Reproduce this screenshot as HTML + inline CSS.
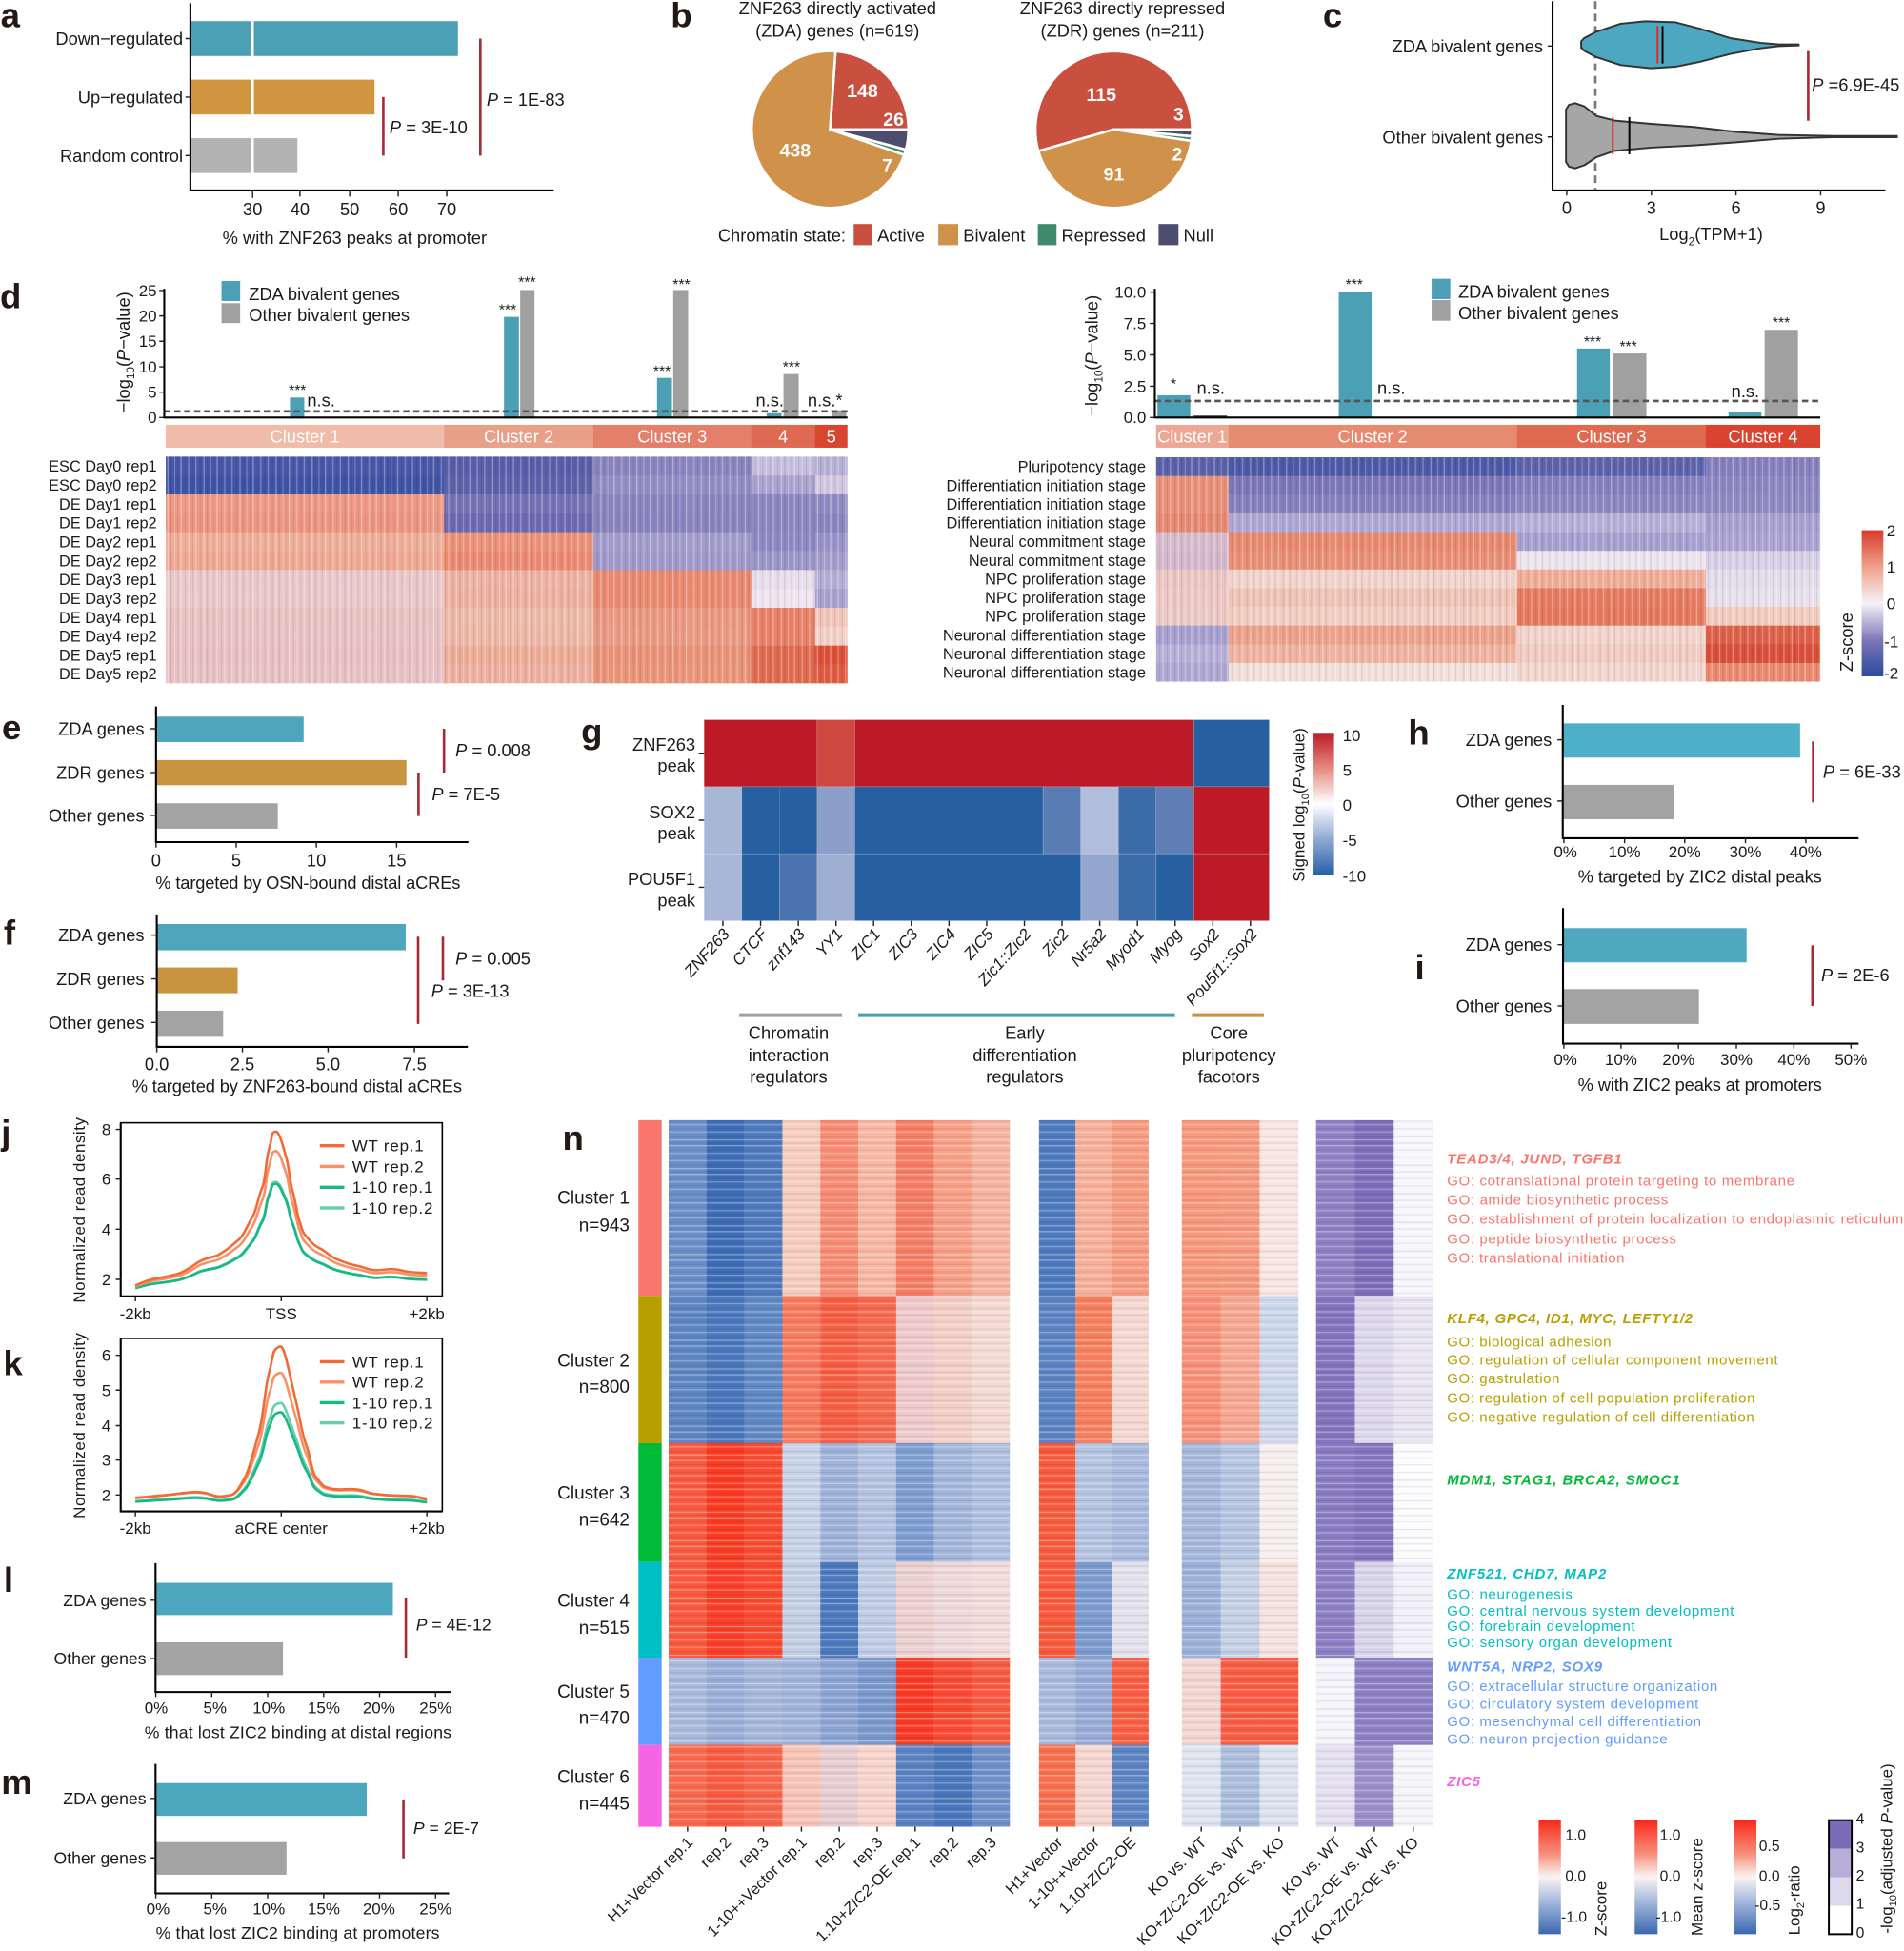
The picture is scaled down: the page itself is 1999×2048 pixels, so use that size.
<!DOCTYPE html>
<html><head><meta charset="utf-8"><style>
html,body{margin:0;padding:0;background:#fff;}
svg{display:block;}
text{font-family:"Liberation Sans",Arial,sans-serif;fill:#1a1a1a;}
.L{font-weight:bold;font-size:28px;fill:#231815;}
.ax{stroke:#000;stroke-width:1.6;fill:none;}
.tk{stroke:#222;stroke-width:1.1;fill:none;}
.sg{stroke:#A52A35;stroke-width:2;fill:none;}
.w{fill:#fff;font-weight:bold;}
</style></head><body>
<svg xmlns="http://www.w3.org/2000/svg" width="1999" height="2048" viewBox="0 0 1530 1567.5" preserveAspectRatio="none">
<defs>
<pattern id="vs" width="29" height="10" patternUnits="userSpaceOnUse">
<rect x="0" width="1" height="10" fill="#fff" fill-opacity=".35"/><rect x="3.5" width=".8" height="10" fill="#000" fill-opacity=".08"/><rect x="6" width="1.2" height="10" fill="#fff" fill-opacity=".25"/><rect x="9.5" width=".7" height="10" fill="#000" fill-opacity=".1"/><rect x="12" width="1" height="10" fill="#fff" fill-opacity=".3"/><rect x="15.5" width="1.4" height="10" fill="#000" fill-opacity=".07"/><rect x="18.5" width=".8" height="10" fill="#fff" fill-opacity=".4"/><rect x="21" width="1" height="10" fill="#000" fill-opacity=".09"/><rect x="24" width=".7" height="10" fill="#fff" fill-opacity=".3"/><rect x="26.5" width="1.1" height="10" fill="#000" fill-opacity=".06"/>
</pattern>
<pattern id="hs" width="10" height="23" patternUnits="userSpaceOnUse">
<rect y="0" height="1" width="10" fill="#fff" fill-opacity=".35"/><rect y="3.5" height=".8" width="10" fill="#000" fill-opacity=".08"/><rect y="6" height="1.2" width="10" fill="#fff" fill-opacity=".25"/><rect y="9.5" height=".7" width="10" fill="#000" fill-opacity=".1"/><rect y="12" height="1" width="10" fill="#fff" fill-opacity=".3"/><rect y="15.5" height="1.4" width="10" fill="#000" fill-opacity=".07"/><rect y="18.5" height=".8" width="10" fill="#fff" fill-opacity=".4"/><rect y="21" height="1" width="10" fill="#000" fill-opacity=".08"/>
</pattern>
<linearGradient id="gz" x1="0" y1="0" x2="0" y2="1"><stop offset="0" stop-color="#D73B29"/><stop offset=".25" stop-color="#EFA08A"/><stop offset=".5" stop-color="#F7F2F7"/><stop offset=".75" stop-color="#7D77B8"/><stop offset="1" stop-color="#2B4A9B"/></linearGradient>
<linearGradient id="gg" x1="0" y1="0" x2="0" y2="1"><stop offset="0" stop-color="#BD1A28"/><stop offset=".25" stop-color="#E58A80"/><stop offset=".5" stop-color="#FFFFFF"/><stop offset=".75" stop-color="#8FA8D2"/><stop offset="1" stop-color="#2660A8"/></linearGradient>
<linearGradient id="gn" x1="0" y1="0" x2="0" y2="1"><stop offset="0" stop-color="#F9291C"/><stop offset=".3" stop-color="#F7907C"/><stop offset=".5" stop-color="#FBF4F4"/><stop offset=".7" stop-color="#A9BCDD"/><stop offset="1" stop-color="#3A68B1"/></linearGradient>
<path id="jc" fill="none" vector-effect="non-scaling-stroke" d="M108.8 1032.8C115 1030 120 1028 125.8 1027.1S137 1025 142.2 1023.6S150 1020 153.1 1018.3S158 1014.5 161.3 1013S168 1010.5 172.2 1009.5S177 1007 180.4 1005.1S187 1000 191.4 996.4S198 986 202.3 978.8S207 963 210.5 954.7S213 935 216 924S218 910.5 220.1 909.6S222.5 909 224.2 911.8S226.5 918 229.6 928.4S232 946 235.1 956.9S238 973 240.6 981S243 990 246 993.3S251 1000 257 1003S264 1009 270.6 1011.7S280 1015.5 287 1017S295 1020 300.7 1020.5S308 1019.6 314.4 1019.6S322 1021 328 1021.8S337 1022.5 343.1 1022.7"/>
<path id="kc" fill="none" vector-effect="non-scaling-stroke" d="M108.8 1203.7C118 1203 124 1202 131.2 1201.5S146 1199.5 153.1 1198.9S160 1199 164 1199.4S171 1202 175 1202.4S182 1202 185.9 1201.1S193 1194 196.8 1187.1S204 1165 207.8 1152S213 1115 216 1103.8S219 1086 221.4 1084.1S224 1081.9 225.5 1081.9S228 1085 229.6 1090.6S234 1110 237.8 1125.7S242 1150 246 1160.8S250 1182 254.2 1187.1S259 1194 262.4 1195S268 1196.7 273.4 1196.7S281 1196 287 1196.7S295 1199.5 300.7 1200.2S309 1201.3 314.4 1201.5S322 1202 328 1202S338 1204 343.1 1204.6"/>
</defs>

<!-- ============ Panel a ============ -->
<text class="L" x="0.5" y="21.7">a</text>
<g font-size="14">
<rect x="153" y="17" width="215" height="28" fill="#4BA0B5"/>
<rect x="153" y="64" width="148" height="28" fill="#D09640"/>
<rect x="153" y="111" width="86" height="28" fill="#B3B3B3"/>
<rect x="201.5" y="14" width="2.5" height="130" fill="#fff"/>
<path class="ax" d="M153 2.6V153H445"/>
<path class="tk" d="M149 31H153M149 78H153M149 125H153M203 153V159M241 153V158M281 153V158M320 153V158M359 153V158"/>
<g text-anchor="end"><text x="147" y="36">Down−regulated</text><text x="147" y="83">Up−regulated</text><text x="147" y="130">Random control</text></g>
<g text-anchor="middle"><text x="203" y="173">30</text><text x="241" y="173">40</text><text x="281" y="173">50</text><text x="320" y="173">60</text><text x="359" y="173">70</text>
<text x="285" y="196">% with ZNF263 peaks at promoter</text></g>
<path class="sg" d="M308 78V125M386 31V125"/>
<text x="313" y="107"><tspan font-style="italic">P</tspan> = 3E-10</text>
<text x="391" y="85"><tspan font-style="italic">P</tspan> = 1E-83</text>
</g>

<!-- ============ Panel b ============ -->
<text class="L" x="539" y="21.7">b</text>
<g font-size="14" text-anchor="middle">
<text x="673" y="11.5">ZNF263 directly activated</text><text x="673" y="29.5">(ZDA) genes (n=619)</text>
<text x="902" y="11.5">ZNF263 directly repressed</text><text x="902" y="29.5">(ZDR) genes (n=211)</text>
</g>
<g stroke="#fff" stroke-width="2">
<path d="M667 104L671.4 41.2A63 63 0 0 1 730 104Z" fill="#C9503F"/>
<path d="M667 104L730 104A63 63 0 0 1 727.9 120.3Z" fill="#4D4D70"/>
<path d="M667 104L727.9 120.3A63 63 0 0 1 726.6 124.5Z" fill="#3E8A6E"/>
<path d="M667 104L726.6 124.5A63 63 0 1 1 671.4 41.2Z" fill="#D0914A"/>
<path d="M895 104L834.4 121.4A63 63 0 1 1 958 104Z" fill="#C9503F"/>
<path d="M895 104L958 104A63 63 0 0 1 957.8 109.5Z" fill="#4D4D70"/>
<path d="M895 104L957.8 109.5A63 63 0 0 1 957.3 113.2Z" fill="#3E8A6E"/>
<path d="M895 104L957.3 113.2A63 63 0 0 1 834.4 121.4Z" fill="#D0914A"/>
</g>
<g font-size="15" text-anchor="middle" class="w">
<text class="w" x="693" y="78">148</text><text class="w" x="718" y="101">26</text><text class="w" x="713" y="138">7</text><text class="w" x="639" y="126">438</text>
<text class="w" x="885" y="81">115</text><text class="w" x="947" y="97">3</text><text class="w" x="946" y="129">2</text><text class="w" x="895" y="145">91</text>
</g>
<g font-size="14">
<text x="577" y="194">Chromatin state:</text>
<rect x="686" y="180" width="15" height="17" fill="#C9503F"/><text x="705" y="194">Active</text>
<rect x="754" y="180" width="16" height="17" fill="#D0914A"/><text x="774" y="194">Bivalent</text>
<rect x="834" y="180" width="15" height="17" fill="#3E8A6E"/><text x="853" y="194">Repressed</text>
<rect x="931" y="180" width="16" height="17" fill="#4D4D70"/><text x="951" y="194">Null</text>
</g>

<!-- ============ Panel c ============ -->
<text class="L" x="1063" y="21.7">c</text>
<path d="M1282 1V153" stroke="#777" stroke-width="2" stroke-dasharray="6 4"/>
<path d="M1270.6 33.2L1273 30.6 1282.8 25.5 1302.3 19.1 1321.9 17.1 1346.3 17.9 1365.8 23 1390.2 30.6 1414.6 34.4 1429.3 35.7 1445.4 35.7 1445.4 36.5 1429.3 37 1414.6 38.8 1390.2 43.4 1365.8 49.7 1346.3 53.6 1326.7 54.8 1302.3 52.3 1282.8 45.9 1273 40.8 1270.6 38.3Z" fill="#4BA8C0" stroke="#333" stroke-width="1.5" stroke-linejoin="round"/>
<path d="M1258.4 88L1260.8 84.2 1265.7 82.9 1273.2 85.5 1282.8 93.1 1297.5 96.9 1326.7 99.5 1361 102 1395 105.9 1429.3 108.4 1473.2 109.2 1524.4 109.2 1524.4 110.2 1473.2 110.2 1429.3 111.5 1395 114.3 1361 116.8 1326.7 118.6 1297.5 121.2 1282.8 126.3 1273.2 132.7 1265.7 135.2 1260.8 133.9 1258.4 130.1Z" fill="#A6A6A6" stroke="#333" stroke-width="1.5" stroke-linejoin="round"/>
<path d="M1332 21V51M1296 94.4V123.7" stroke="#E8261E" stroke-width="1.5"/>
<path d="M1336 21V51M1309.3 94V124" stroke="#000" stroke-width="1.5"/>
<path class="ax" d="M1247.6 1V153H1515"/>
<path class="tk" d="M1243.6 37H1247.6M1243.6 110H1247.6M1259 153V157M1327 153V157M1395 153V157M1463 153V157"/>
<g font-size="14">
<g text-anchor="end"><text x="1240" y="42">ZDA bivalent genes</text><text x="1240" y="115">Other bivalent genes</text></g>
<g text-anchor="middle"><text x="1259" y="172">0</text><text x="1327" y="172">3</text><text x="1395" y="172">6</text><text x="1463" y="172">9</text>
<text x="1375" y="193">Log<tspan font-size="9" dy="4">2</tspan><tspan dy="-4">(TPM+1)</tspan></text></g>
<path class="sg" d="M1453 41V97"/>
<text x="1456" y="73"><tspan font-style="italic">P</tspan> =6.9E-45</text>
</g>

<!-- ============ Panel d (left) ============ -->
<text class="L" x="0" y="247.5">d</text>
<g font-size="13">
<path class="tk" d="M128 233.4H132M128 253.8H132M128 274.2H132M128 294.7H132M128 315.1H132M128 335.5H132"/>
<g text-anchor="end"><text x="126" y="238">25</text><text x="126" y="258.3">20</text><text x="126" y="278.7">15</text><text x="126" y="299.2">10</text><text x="126" y="319.6">5</text><text x="126" y="340">0</text></g>
</g>
<text font-size="14" text-anchor="middle" transform="translate(104,283) rotate(-90)">−log<tspan font-size="9" dy="4">10</tspan><tspan dy="-4">(</tspan><tspan font-style="italic">P</tspan>−value)</text>
<rect x="178" y="225.8" width="15" height="16" fill="#4BA0B5"/><rect x="178" y="243.6" width="15" height="16" fill="#A0A0A0"/>
<text font-size="14" x="200" y="241">ZDA bivalent genes</text><text font-size="14" x="200" y="258">Other bivalent genes</text>
<g fill="#4BA0B5"><rect x="233" y="319.4" width="11.5" height="16.1"/><rect x="405" y="254.6" width="12" height="80.9"/><rect x="528" y="303.6" width="12" height="31.9"/><rect x="616" y="332" width="12" height="3.5"/></g>
<g fill="#A0A0A0"><rect x="418" y="233" width="11.5" height="102.5"/><rect x="541" y="233" width="12" height="102.5"/><rect x="629.6" y="300.5" width="12.2" height="35"/><rect x="668.6" y="329.6" width="11.5" height="5.9"/></g>
<path d="M132 330.5H681" stroke="#555" stroke-width="2" stroke-dasharray="5 3"/>
<path class="ax" d="M132 232V335.5H681" stroke-width="2"/>
<g font-size="12" text-anchor="middle"><text x="239" y="317.8">***</text><text x="408" y="252.8">***</text><text x="423.6" y="230.8">***</text><text x="532" y="302.2">***</text><text x="547.6" y="232.8">***</text><text x="636" y="298.8">***</text></g>
<g font-size="14" text-anchor="middle"><text x="258" y="326.3">n.s.</text><text x="618.6" y="326.3">n.s.</text><text x="663" y="326.3">n.s.*</text></g>
<rect x="133.2" y="341.3" width="223.8" height="18.4" fill="#F0BBA8"/><rect x="356.8" y="341.3" width="120.2" height="18.4" fill="#E9A088"/><rect x="476.8" y="341.3" width="127.1" height="18.4" fill="#E4806A"/><rect x="603.7" y="341.3" width="51.5" height="18.4" fill="#DF6A52"/><rect x="655" y="341.3" width="26" height="18.4" fill="#D94530"/>
<g font-size="14" text-anchor="middle"><text class="w" style="font-weight:normal" x="245" y="355.5">Cluster 1</text><text class="w" style="font-weight:normal" x="416.8" y="355.5">Cluster 2</text><text class="w" style="font-weight:normal" x="540.2" y="355.5">Cluster 3</text><text class="w" style="font-weight:normal" x="629.3" y="355.5">4</text><text class="w" style="font-weight:normal" x="668" y="355.5">5</text></g>
<!-- heatmap left -->
<g>
<g transform="translate(0,366.9)"><rect x="133.2" width="223.8" height="15.4" fill="#4758A8"/><rect x="356.8" width="120.2" height="15.4" fill="#5A5EAA"/><rect x="476.8" width="127.1" height="15.4" fill="#8A84C0"/><rect x="603.7" width="51.5" height="15.4" fill="#C6BEDD"/><rect x="655" width="26" height="15.4" fill="#B8B0D6"/></g>
<g transform="translate(0,382.08)"><rect x="133.2" width="223.8" height="15.4" fill="#4054A5"/><rect x="356.8" width="120.2" height="15.4" fill="#5F62AB"/><rect x="476.8" width="127.1" height="15.4" fill="#948EC5"/><rect x="603.7" width="51.5" height="15.4" fill="#ABA3D0"/><rect x="655" width="26" height="15.4" fill="#D2C6E0"/></g>
<g transform="translate(0,397.25)"><rect x="133.2" width="223.8" height="15.4" fill="#EE9A85"/><rect x="356.8" width="120.2" height="15.4" fill="#7772B5"/><rect x="476.8" width="127.1" height="15.4" fill="#8B85C0"/><rect x="603.7" width="51.5" height="15.4" fill="#8D87C1"/><rect x="655" width="26" height="15.4" fill="#918BC3"/></g>
<g transform="translate(0,412.43)"><rect x="133.2" width="223.8" height="15.4" fill="#EC9682"/><rect x="356.8" width="120.2" height="15.4" fill="#6E6AB1"/><rect x="476.8" width="127.1" height="15.4" fill="#8984BF"/><rect x="603.7" width="51.5" height="15.4" fill="#8D87C1"/><rect x="655" width="26" height="15.4" fill="#8C86C0"/></g>
<g transform="translate(0,427.6)"><rect x="133.2" width="223.8" height="15.4" fill="#F0AE9B"/><rect x="356.8" width="120.2" height="15.4" fill="#EE9379"/><rect x="476.8" width="127.1" height="15.4" fill="#A49DCD"/><rect x="603.7" width="51.5" height="15.4" fill="#8F89C2"/><rect x="655" width="26" height="15.4" fill="#9A94C8"/></g>
<g transform="translate(0,442.78)"><rect x="133.2" width="223.8" height="15.4" fill="#F0A994"/><rect x="356.8" width="120.2" height="15.4" fill="#EC8B71"/><rect x="476.8" width="127.1" height="15.4" fill="#A09ACB"/><rect x="603.7" width="51.5" height="15.4" fill="#9C96C9"/><rect x="655" width="26" height="15.4" fill="#A49DCD"/></g>
<g transform="translate(0,457.95)"><rect x="133.2" width="223.8" height="15.4" fill="#E9C8CA"/><rect x="356.8" width="120.2" height="15.4" fill="#EEB3A4"/><rect x="476.8" width="127.1" height="15.4" fill="#EA8B71"/><rect x="603.7" width="51.5" height="15.4" fill="#E8DDEB"/><rect x="655" width="26" height="15.4" fill="#B6AED6"/></g>
<g transform="translate(0,473.13)"><rect x="133.2" width="223.8" height="15.4" fill="#EAC9C8"/><rect x="356.8" width="120.2" height="15.4" fill="#EEB1A0"/><rect x="476.8" width="127.1" height="15.4" fill="#EA8B71"/><rect x="603.7" width="51.5" height="15.4" fill="#EEE5EF"/><rect x="655" width="26" height="15.4" fill="#A9A1D0"/></g>
<g transform="translate(0,488.3)"><rect x="133.2" width="223.8" height="15.4" fill="#E9C2C2"/><rect x="356.8" width="120.2" height="15.4" fill="#EEBBA9"/><rect x="476.8" width="127.1" height="15.4" fill="#EB9981"/><rect x="603.7" width="51.5" height="15.4" fill="#E88169"/><rect x="655" width="26" height="15.4" fill="#F1C6B8"/></g>
<g transform="translate(0,503.48)"><rect x="133.2" width="223.8" height="15.4" fill="#E9C2C4"/><rect x="356.8" width="120.2" height="15.4" fill="#EEB9A7"/><rect x="476.8" width="127.1" height="15.4" fill="#EB9B83"/><rect x="603.7" width="51.5" height="15.4" fill="#E88169"/><rect x="655" width="26" height="15.4" fill="#F2D1C6"/></g>
<g transform="translate(0,518.65)"><rect x="133.2" width="223.8" height="15.4" fill="#E9C0C2"/><rect x="356.8" width="120.2" height="15.4" fill="#EEAD99"/><rect x="476.8" width="127.1" height="15.4" fill="#EA9379"/><rect x="603.7" width="51.5" height="15.4" fill="#E06B51"/><rect x="655" width="26" height="15.4" fill="#DD5139"/></g>
<g transform="translate(0,533.83)"><rect x="133.2" width="223.8" height="15.2" fill="#E9C2C6"/><rect x="356.8" width="120.2" height="15.2" fill="#EEB1A1"/><rect x="476.8" width="127.1" height="15.2" fill="#EA9579"/><rect x="603.7" width="51.5" height="15.2" fill="#E06B51"/><rect x="655" width="26" height="15.2" fill="#E05B43"/></g>
<rect x="133.2" y="366.9" width="547.8" height="182.1" fill="url(#vs)"/>
</g>
<g font-size="12.5" text-anchor="end">
<text x="126" y="379">ESC Day0 rep1</text><text x="126" y="394.2">ESC Day0 rep2</text><text x="126" y="409.3">DE Day1 rep1</text><text x="126" y="424.5">DE Day1 rep2</text><text x="126" y="439.7">DE Day2 rep1</text><text x="126" y="454.9">DE Day2 rep2</text><text x="126" y="470">DE Day3 rep1</text><text x="126" y="485.2">DE Day3 rep2</text><text x="126" y="500.4">DE Day4 rep1</text><text x="126" y="515.6">DE Day4 rep2</text><text x="126" y="530.7">DE Day5 rep1</text><text x="126" y="545.9">DE Day5 rep2</text>
</g>

<!-- ============ Panel d (right) ============ -->
<g font-size="13">
<path class="tk" d="M924 234.7H928M924 259.9H928M924 285.1H928M924 310.3H928M924 335.5H928"/>
<g text-anchor="end"><text x="921" y="239.2">10.0</text><text x="921" y="264.4">7.5</text><text x="921" y="289.6">5.0</text><text x="921" y="314.8">2.5</text><text x="921" y="340">0.0</text></g>
</g>
<text font-size="14" text-anchor="middle" transform="translate(882,285.7) rotate(-90)">−log<tspan font-size="9" dy="4">10</tspan><tspan dy="-4">(</tspan><tspan font-style="italic">P</tspan>−value)</text>
<g fill="#4BA0B5"><rect x="930.1" y="317.6" width="26.4" height="17.9"/><rect x="1075.8" y="234.7" width="26.4" height="100.8"/><rect x="1267.3" y="280" width="26.3" height="55.5"/><rect x="1389" y="330.9" width="26.4" height="4.6"/></g>
<g fill="#A0A0A0"><rect x="1296" y="284" width="27" height="51.5"/><rect x="1418" y="265" width="26.8" height="70.5"/></g>
<rect x="959" y="333.8" width="27" height="1.7" fill="#555"/>
<path d="M928 322.2H1462.7" stroke="#555" stroke-width="2" stroke-dasharray="5 3"/>
<path class="ax" d="M928 232V335.5H1462.7" stroke-width="2"/>
<rect x="1150.4" y="224" width="15" height="16.3" fill="#4BA0B5"/><rect x="1150.4" y="241.1" width="15" height="16.6" fill="#A0A0A0"/>
<text font-size="14" x="1171.8" y="239.2">ZDA bivalent genes</text><text font-size="14" x="1171.8" y="256.3">Other bivalent genes</text>
<g font-size="12" text-anchor="middle"><text x="943" y="312.8">*</text><text x="1088.2" y="232.6">***</text><text x="1279.7" y="278.5">***</text><text x="1308.5" y="282.3">***</text><text x="1431.3" y="263.2">***</text></g>
<g font-size="14" text-anchor="middle"><text x="973" y="316.5">n.s.</text><text x="1118" y="316.5">n.s.</text><text x="1402.5" y="319">n.s.</text></g>
<rect x="929" y="341.3" width="58.5" height="18.4" fill="#EDA895"/><rect x="987.3" y="341.3" width="231.9" height="18.4" fill="#E68A70"/><rect x="1219" y="341.3" width="151.9" height="18.4" fill="#E06A50"/><rect x="1370.7" y="341.3" width="92" height="18.4" fill="#D9432F"/>
<g font-size="14" text-anchor="middle" fill="#fff"><text style="fill:#fff" x="958" y="355.5">Cluster 1</text><text style="fill:#fff" x="1103" y="355.5">Cluster 2</text><text style="fill:#fff" x="1295" y="355.5">Cluster 3</text><text style="fill:#fff" x="1416.7" y="355.5">Cluster 4</text></g>
<g>
<g transform="translate(0,367.4)"><rect x="929" width="58.5" height="15.3" fill="#5A62AC"/><rect x="987.3" width="231.9" height="15.3" fill="#4D5AA8"/><rect x="1219" width="151.9" height="15.3" fill="#5C63AD"/><rect x="1370.7" width="92" height="15.3" fill="#8680BE"/></g>
<g transform="translate(0,382.43)"><rect x="929" width="58.5" height="15.3" fill="#E8907A"/><rect x="987.3" width="231.9" height="15.3" fill="#7C77B8"/><rect x="1219" width="151.9" height="15.3" fill="#8680BE"/><rect x="1370.7" width="92" height="15.3" fill="#8D87C2"/></g>
<g transform="translate(0,397.45)"><rect x="929" width="58.5" height="15.3" fill="#E8907A"/><rect x="987.3" width="231.9" height="15.3" fill="#8680BE"/><rect x="1219" width="151.9" height="15.3" fill="#8D87C2"/><rect x="1370.7" width="92" height="15.3" fill="#908AC3"/></g>
<g transform="translate(0,412.48)"><rect x="929" width="58.5" height="15.3" fill="#E68A72"/><rect x="987.3" width="231.9" height="15.3" fill="#B0A8D4"/><rect x="1219" width="151.9" height="15.3" fill="#B8B0D8"/><rect x="1370.7" width="92" height="15.3" fill="#A8A0D0"/></g>
<g transform="translate(0,427.5)"><rect x="929" width="58.5" height="15.3" fill="#D8BCCC"/><rect x="987.3" width="231.9" height="15.3" fill="#E88A70"/><rect x="1219" width="151.9" height="15.3" fill="#A8A0D0"/><rect x="1370.7" width="92" height="15.3" fill="#ACA4D2"/></g>
<g transform="translate(0,442.53)"><rect x="929" width="58.5" height="15.3" fill="#D4B8CC"/><rect x="987.3" width="231.9" height="15.3" fill="#EA9078"/><rect x="1219" width="151.9" height="15.3" fill="#EDE4EE"/><rect x="1370.7" width="92" height="15.3" fill="#D8D0E6"/></g>
<g transform="translate(0,457.55)"><rect x="929" width="58.5" height="15.3" fill="#EBC6C4"/><rect x="987.3" width="231.9" height="15.3" fill="#F2D4CC"/><rect x="1219" width="151.9" height="15.3" fill="#F0AE98"/><rect x="1370.7" width="92" height="15.3" fill="#E2DCEC"/></g>
<g transform="translate(0,472.58)"><rect x="929" width="58.5" height="15.3" fill="#EDC8C4"/><rect x="987.3" width="231.9" height="15.3" fill="#F0C4B6"/><rect x="1219" width="151.9" height="15.3" fill="#E67C62"/><rect x="1370.7" width="92" height="15.3" fill="#E8E0EC"/></g>
<g transform="translate(0,487.6)"><rect x="929" width="58.5" height="15.3" fill="#EDCAC6"/><rect x="987.3" width="231.9" height="15.3" fill="#F2CEC2"/><rect x="1219" width="151.9" height="15.3" fill="#E6785E"/><rect x="1370.7" width="92" height="15.3" fill="#F2CCBE"/></g>
<g transform="translate(0,502.63)"><rect x="929" width="58.5" height="15.3" fill="#A8A0D0"/><rect x="987.3" width="231.9" height="15.3" fill="#EDA38C"/><rect x="1219" width="151.9" height="15.3" fill="#F2D4CC"/><rect x="1370.7" width="92" height="15.3" fill="#E0614A"/></g>
<g transform="translate(0,517.65)"><rect x="929" width="58.5" height="15.3" fill="#B8B0D8"/><rect x="987.3" width="231.9" height="15.3" fill="#F0B4A2"/><rect x="1219" width="151.9" height="15.3" fill="#F0CCC2"/><rect x="1370.7" width="92" height="15.3" fill="#DA503A"/></g>
<g transform="translate(0,532.68)"><rect x="929" width="58.5" height="15" fill="#B0A8D4"/><rect x="987.3" width="231.9" height="15" fill="#F2E0DC"/><rect x="1219" width="151.9" height="15" fill="#F2D6CE"/><rect x="1370.7" width="92" height="15" fill="#EA8A70"/></g>
<rect x="929" y="367.4" width="533.7" height="180.3" fill="url(#vs)"/>
</g>
<g font-size="12.5" text-anchor="end">
<text x="920.7" y="379.4">Pluripotency stage</text><text x="920.7" y="394.4">Differentiation initiation stage</text><text x="920.7" y="409.5">Differentiation initiation stage</text><text x="920.7" y="424.5">Differentiation initiation stage</text><text x="920.7" y="439.5">Neural commitment stage</text><text x="920.7" y="454.5">Neural commitment stage</text><text x="920.7" y="469.6">NPC proliferation stage</text><text x="920.7" y="484.6">NPC proliferation stage</text><text x="920.7" y="499.6">NPC proliferation stage</text><text x="920.7" y="514.6">Neuronal differentiation stage</text><text x="920.7" y="529.7">Neuronal differentiation stage</text><text x="920.7" y="544.7">Neuronal differentiation stage</text>
</g>
<rect x="1496" y="426" width="17.4" height="117.4" fill="url(#gz)"/>
<g font-size="13"><text x="1516" y="431">2</text><text x="1516" y="460">1</text><text x="1516" y="489.5">0</text><text x="1514" y="520">-1</text><text x="1514" y="545.5">-2</text></g>
<text font-size="14" text-anchor="middle" transform="translate(1488.6,516) rotate(-90)">Z-score</text>

<!-- ============ Panel e ============ -->
<text class="L" x="1.5" y="593.9">e</text>
<g font-size="14">
<rect x="125.4" y="575.8" width="118.6" height="20.4" fill="#4DA6BD"/>
<rect x="125.4" y="610.7" width="201.2" height="20.2" fill="#C9933F"/>
<rect x="125.4" y="645.4" width="97.8" height="20.4" fill="#A3A3A3"/>
<path class="ax" d="M125.4 567.6V676.6H376.4"/>
<path class="tk" d="M121 585.5H125.4M121 620.7H125.4M121 655.1H125.4M125.4 676.6V681M189.8 676.6V681M254.2 676.6V681M318.7 676.6V681"/>
<g text-anchor="end"><text x="116" y="590.5">ZDA genes</text><text x="116" y="625.7">ZDR genes</text><text x="116" y="660">Other genes</text></g>
<g text-anchor="middle"><text x="125.4" y="696">0</text><text x="189.8" y="696">5</text><text x="254.2" y="696">10</text><text x="318.7" y="696">15</text>
<text x="247.5" y="714" textLength="245">% targeted by OSN-bound distal aCREs</text></g>
<path class="sg" d="M356.8 585.5V620.7M336.3 620.7V655.6"/>
<text x="366" y="607.6"><tspan font-style="italic">P</tspan> = 0.008</text>
<text x="347" y="642.8"><tspan font-style="italic">P</tspan> = 7E-5</text>
</g>

<!-- ============ Panel f ============ -->
<text class="L" x="3" y="759">f</text>
<g font-size="14">
<rect x="126" y="742.4" width="200" height="21.1" fill="#4DA6BD"/>
<rect x="126" y="777.3" width="65" height="20.7" fill="#C9933F"/>
<rect x="126" y="812" width="53.3" height="21" fill="#A3A3A3"/>
<path class="ax" d="M126 734.7V841.1H376"/>
<path class="tk" d="M121.6 751.3H126M121.6 786.5H126M121.6 821.5H126M126 841.1V845.5M194.8 841.1V845.5M263.6 841.1V845.5M333 841.1V845.5"/>
<g text-anchor="end"><text x="116" y="756.3">ZDA genes</text><text x="116" y="791.5">ZDR genes</text><text x="116" y="826.5">Other genes</text></g>
<g text-anchor="middle"><text x="126" y="860">0.0</text><text x="194.8" y="860">2.5</text><text x="263.6" y="860">5.0</text><text x="333" y="860">7.5</text>
<text x="238.7" y="877.5" textLength="265">% targeted by ZNF263-bound distal aCREs</text></g>
<path class="sg" d="M355.9 752.6V787.8M336 752.6V822.7"/>
<text x="366" y="775"><tspan font-style="italic">P</tspan> = 0.005</text>
<text x="346.5" y="801"><tspan font-style="italic">P</tspan> = 3E-13</text>
</g>

<!-- ============ Panel g ============ -->
<text class="L" x="467" y="597">g</text>
<g stroke="#fff" stroke-opacity=".18" stroke-width=".6">
<rect x="565.8" y="578.3" width="90.81" height="53.83" fill="#BD1A28"/><rect x="656.61" y="578.3" width="30.27" height="53.83" fill="#CF4840"/><rect x="686.88" y="578.3" width="272.43" height="53.83" fill="#BD1A28"/><rect x="959.31" y="578.3" width="60.59" height="53.83" fill="#2660A0"/>
<rect x="565.8" y="632.13" width="30.27" height="53.83" fill="#A9B7D7"/><rect x="596.07" y="632.13" width="60.54" height="53.83" fill="#2660A0"/><rect x="626.34" y="632.13" width="30.27" height="53.83" fill="#2660A0"/><rect x="656.61" y="632.13" width="30.27" height="53.83" fill="#8C9FC9"/><rect x="686.88" y="632.13" width="151.35" height="53.83" fill="#2660A0"/><rect x="838.23" y="632.13" width="30.27" height="53.83" fill="#5A7CB4"/><rect x="868.5" y="632.13" width="30.27" height="53.83" fill="#B1BEDB"/><rect x="898.77" y="632.13" width="30.27" height="53.83" fill="#3B6BA8"/><rect x="929.04" y="632.13" width="30.27" height="53.83" fill="#5E7EB5"/><rect x="959.31" y="632.13" width="60.59" height="53.83" fill="#BD1A28"/>
<rect x="565.8" y="685.96" width="30.27" height="53.84" fill="#A8B6D7"/><rect x="596.07" y="685.96" width="30.27" height="53.84" fill="#2660A0"/><rect x="626.34" y="685.96" width="30.27" height="53.84" fill="#4B74AE"/><rect x="656.61" y="685.96" width="30.27" height="53.84" fill="#9DAED2"/><rect x="686.88" y="685.96" width="181.62" height="53.84" fill="#2660A0"/><rect x="868.5" y="685.96" width="30.27" height="53.84" fill="#93A6CD"/><rect x="898.77" y="685.96" width="30.27" height="53.84" fill="#3B6BA8"/><rect x="929.04" y="685.96" width="30.27" height="53.84" fill="#2660A0"/><rect x="959.31" y="685.96" width="60.59" height="53.84" fill="#BD1A28"/>
</g>
<path class="tk" d="M561.5 605.2H565.8M561.5 659H565.8M561.5 712.9H565.8M580.9 739.8V744M611.2 739.8V744M641.5 739.8V744M671.8 739.8V744M702 739.8V744M732.3 739.8V744M762.6 739.8V744M792.9 739.8V744M823.2 739.8V744M853.4 739.8V744M883.7 739.8V744M914 739.8V744M944.3 739.8V744M974.6 739.8V744M1004.8 739.8V744"/>
<g font-size="14" text-anchor="end"><text x="558.8" y="603.2">ZNF263</text><text x="558.8" y="619.8">peak</text><text x="558.8" y="657.3">SOX2</text><text x="558.8" y="674.2">peak</text><text x="558.8" y="711.1">POU5F1</text><text x="558.8" y="728.2">peak</text></g>
<g font-size="13" font-style="italic" text-anchor="end">
<text transform="translate(586.9,751) rotate(-48)">ZNF263</text><text transform="translate(617.2,751) rotate(-48)">CTCF</text><text transform="translate(647.5,751) rotate(-48)">znf143</text><text transform="translate(677.8,751) rotate(-48)">YY1</text><text transform="translate(708,751) rotate(-48)">ZIC1</text><text transform="translate(738.3,751) rotate(-48)">ZIC3</text><text transform="translate(768.6,751) rotate(-48)">ZIC4</text><text transform="translate(798.9,751) rotate(-48)">ZIC5</text><text transform="translate(829.2,751) rotate(-48)">Zic1::Zic2</text><text transform="translate(859.4,751) rotate(-48)">Zic2</text><text transform="translate(889.7,751) rotate(-48)">Nr5a2</text><text transform="translate(920,751) rotate(-48)">Myod1</text><text transform="translate(950.3,751) rotate(-48)">Myog</text><text transform="translate(980.6,751) rotate(-48)">Sox2</text><text transform="translate(1010.8,751) rotate(-48)">Pou5f1::Sox2</text>
</g>
<path d="M594 815.6H676.7" stroke="#A0A0A0" stroke-width="3"/><path d="M689.6 815.6H944.2" stroke="#4A9FB0" stroke-width="3"/><path d="M957.8 815.6H1015.6" stroke="#C8923E" stroke-width="3"/>
<g font-size="14" text-anchor="middle">
<text x="633.7" y="834.6">Chromatin</text><text x="633.7" y="852.5">interaction</text><text x="633.7" y="869.8">regulators</text>
<text x="823.5" y="834.6">Early</text><text x="823.5" y="852.5">differentiation</text><text x="823.5" y="869.8">regulators</text>
<text x="987.5" y="834.6">Core</text><text x="987.5" y="852.5">pluripotency</text><text x="987.5" y="869.8">facotors</text>
</g>
<rect x="1055.5" y="588.8" width="16.5" height="114.2" fill="url(#gg)"/>
<g font-size="13"><text x="1078.9" y="595.3">10</text><text x="1078.9" y="623.3">5</text><text x="1078.9" y="651.4">0</text><text x="1078.9" y="679.5">-5</text><text x="1078.9" y="708.3">-10</text></g>
<text font-size="13" text-anchor="middle" transform="translate(1048.2,646.7) rotate(-90)">Signed log<tspan font-size="8.5" dy="3.5">10</tspan><tspan dy="-3.5">(</tspan><tspan font-style="italic">P</tspan>-value)</text>

<!-- ============ Panel h ============ -->
<text class="L" x="1131.5" y="598.2">h</text>
<g font-size="14">
<rect x="1255.8" y="581.2" width="190.7" height="27.5" fill="#4FAFC8"/>
<rect x="1255.8" y="630.6" width="89.2" height="27.6" fill="#A3A3A3"/>
<path class="ax" d="M1255.8 566.4V673.5H1493.5"/>
<path class="tk" d="M1251.5 594.4H1255.8M1251.5 643.6H1255.8M1256.7 673.5V677.5M1305.5 673.5V677.5M1353.8 673.5V677.5M1402.6 673.5V677.5M1451.1 673.5V677.5"/>
<g text-anchor="end"><text x="1247" y="599.4">ZDA genes</text><text x="1247" y="648.6">Other genes</text></g>
<g text-anchor="middle" font-size="13"><text x="1258" y="688.7">0%</text><text x="1305.5" y="688.7">10%</text><text x="1353.8" y="688.7">20%</text><text x="1402.6" y="688.7">30%</text><text x="1451.1" y="688.7">40%</text></g>
<text x="1366" y="709" text-anchor="middle" textLength="196">% targeted by ZIC2 distal peaks</text>
<path class="sg" d="M1457 595.7V644.7"/>
<text x="1464.9" y="624.9"><tspan font-style="italic">P</tspan> = 6E-33</text>
</g>

<!-- ============ Panel i ============ -->
<text class="L" x="1137" y="787">i</text>
<g font-size="14">
<rect x="1256" y="745.7" width="147.5" height="27.5" fill="#4DA8C0"/>
<rect x="1256" y="794.7" width="109.2" height="28" fill="#A3A3A3"/>
<path class="ax" d="M1256 729.6V838.5H1493.5"/>
<path class="tk" d="M1251.7 759H1256M1251.7 808.2H1256M1256.7 838.5V842.5M1302.6 838.5V842.5M1348.8 838.5V842.5M1395.3 838.5V842.5M1441.5 838.5V842.5M1487.4 838.5V842.5"/>
<g text-anchor="end"><text x="1247" y="764">ZDA genes</text><text x="1247" y="813.2">Other genes</text></g>
<g text-anchor="middle" font-size="13"><text x="1258" y="855.8">0%</text><text x="1302.6" y="855.8">10%</text><text x="1348.8" y="855.8">20%</text><text x="1395.3" y="855.8">30%</text><text x="1441.5" y="855.8">40%</text><text x="1487.4" y="855.8">50%</text></g>
<text x="1366" y="876.2" text-anchor="middle" textLength="196">% with ZIC2 peaks at promoters</text>
<path class="sg" d="M1456.4 759.5V808.2"/>
<text x="1463.4" y="788.2"><tspan font-style="italic">P</tspan> = 2E-6</text>
</g>

<!-- ============ Panel j ============ -->
<text class="L" x="1" y="919.7">j</text>
<rect x="97" y="902.1" width="258.4" height="139.4" fill="none" stroke="#000" stroke-width="1.2"/>
<path class="ax" d="M97 902.1V1041.5H355.4" stroke-width="2"/>
<path class="tk" d="M93 907.4H97M93 947.3H97M93 987.6H97M93 1027.9H97M108.8 1041.5V1045.5M226 1041.5V1045.5M343 1041.5V1045.5"/>
<g font-size="13" text-anchor="end"><text x="89" y="912">8</text><text x="89" y="951.9">6</text><text x="89" y="992.2">4</text><text x="89" y="1032.5">2</text></g>
<g font-size="13" text-anchor="middle"><text x="108.8" y="1060">-2kb</text><text x="226" y="1060">TSS</text><text x="343" y="1060">+2kb</text></g>
<text font-size="13" text-anchor="middle" transform="translate(68,972.3) rotate(-90)" textLength="149">Normalized read density</text>
<g fill="none" stroke-width="2.6" stroke-linejoin="round">
<use href="#jc" stroke="#6CCDAE" transform="translate(0,1039.5) scale(1,0.69) translate(0,-1039.5)"/>
<use href="#jc" stroke="#16B884" transform="translate(0,1039.5) scale(1,0.678) translate(0,-1039.5)"/>
<use href="#jc" stroke="#FA9166" transform="translate(0,1039.5) scale(1,0.88) translate(0,-1039.5)"/>
<use href="#jc" stroke="#F26A36"/>
</g>
<g stroke-width="2.6"><path d="M257 920.5H276.7" stroke="#F26A36"/><path d="M257 937.2H276.7" stroke="#FA9166"/><path d="M257 953.9H276.7" stroke="#16B884"/><path d="M257 970.5H276.7" stroke="#6CCDAE"/></g>
<g font-size="13"><text x="283" y="925" textLength="57.4">WT rep.1</text><text x="283" y="941.7" textLength="57.4">WT rep.2</text><text x="283" y="958.4" textLength="64.8">1-10 rep.1</text><text x="283" y="975" textLength="64.8">1-10 rep.2</text></g>

<!-- ============ Panel k ============ -->
<text class="L" x="2.7" y="1104.7">k</text>
<rect x="97" y="1075.3" width="258.4" height="139" fill="none" stroke="#000" stroke-width="1.2"/>
<path class="ax" d="M97 1075.3V1214.3H355.4" stroke-width="2"/>
<path class="tk" d="M93 1088.9H97M93 1116.9H97M93 1145.4H97M93 1173.1H97M93 1201.1H97M108.8 1214.3V1218.3M226 1214.3V1218.3M343 1214.3V1218.3"/>
<g font-size="13" text-anchor="end"><text x="89" y="1093.5">6</text><text x="89" y="1121.5">5</text><text x="89" y="1150">4</text><text x="89" y="1177.7">3</text><text x="89" y="1205.7">2</text></g>
<g font-size="13" text-anchor="middle"><text x="108.8" y="1232.4">-2kb</text><text x="226" y="1232.4">aCRE center</text><text x="343" y="1232.4">+2kb</text></g>
<text font-size="13" text-anchor="middle" transform="translate(68,1145.4) rotate(-90)" textLength="149">Normalized read density</text>
<g fill="none" stroke-width="2.6" stroke-linejoin="round">
<use href="#kc" stroke="#6CCDAE" transform="translate(0,1210.5) scale(1,0.648) translate(0,-1210.5)"/>
<use href="#kc" stroke="#16B884" transform="translate(0,1210.5) scale(1,0.59) translate(0,-1210.5)"/>
<use href="#kc" stroke="#FA9166" transform="translate(0,1201) scale(1,0.823) translate(0,-1201)"/>
<use href="#kc" stroke="#F26A36"/>
</g>
<g stroke-width="2.6"><path d="M257 1094.1H276.7" stroke="#F26A36"/><path d="M257 1110.4H276.7" stroke="#FA9166"/><path d="M257 1127H276.7" stroke="#16B884"/><path d="M257 1143.2H276.7" stroke="#6CCDAE"/></g>
<g font-size="13"><text x="283" y="1098.6" textLength="57.4">WT rep.1</text><text x="283" y="1114.9" textLength="57.4">WT rep.2</text><text x="283" y="1131.5" textLength="64.8">1-10 rep.1</text><text x="283" y="1147.7" textLength="64.8">1-10 rep.2</text></g>

<!-- ============ Panel l ============ -->
<text class="L" x="3" y="1279.1">l</text>
<g font-size="13.5">
<rect x="125" y="1271.7" width="190.7" height="25.9" fill="#4CA6BE"/>
<rect x="125" y="1319.5" width="102.4" height="26.3" fill="#A3A3A3"/>
<path class="ax" d="M125 1255.9V1359.4H362.8"/>
<path class="tk" d="M121 1285.7H125M121 1332.6H125M125.2 1359.4V1363.4M170.2 1359.4V1363.4M215.1 1359.4V1363.4M260.1 1359.4V1363.4M305 1359.4V1363.4M350 1359.4V1363.4"/>
<g text-anchor="end"><text x="117.5" y="1290.4">ZDA genes</text><text x="117.5" y="1337.3">Other genes</text></g>
<g text-anchor="middle" font-size="13"><text x="125.5" y="1376.6">0%</text><text x="172.8" y="1376.6">5%</text><text x="216" y="1376.6">10%</text><text x="260.2" y="1376.6">15%</text><text x="304.5" y="1376.6">20%</text><text x="350" y="1376.6">25%</text></g>
<text x="239.5" y="1396.3" text-anchor="middle" textLength="246.6">% that lost ZIC2 binding at distal regions</text>
<path class="sg" d="M326.1 1283.5V1331.8"/>
<text x="334.3" y="1310"><tspan font-style="italic">P</tspan> = 4E-12</text>
</g>

<!-- ============ Panel m ============ -->
<text class="L" x="1" y="1441.4">m</text>
<g font-size="13.5">
<rect x="125" y="1432.6" width="169.7" height="26.3" fill="#4CA6BE"/>
<rect x="125" y="1480" width="105.2" height="26.2" fill="#A3A3A3"/>
<path class="ax" d="M125 1417.2V1521.2H360.9"/>
<path class="tk" d="M121 1444.9H125M121 1492.7H125M125.2 1521.2V1525.2M170.2 1521.2V1525.2M215.1 1521.2V1525.2M260.1 1521.2V1525.2M305 1521.2V1525.2M350 1521.2V1525.2"/>
<g text-anchor="end"><text x="117.5" y="1449.6">ZDA genes</text><text x="117.5" y="1497.4">Other genes</text></g>
<g text-anchor="middle" font-size="13"><text x="127" y="1538">0%</text><text x="172.8" y="1538">5%</text><text x="216" y="1538">10%</text><text x="260.2" y="1538">15%</text><text x="304.5" y="1538">20%</text><text x="350" y="1538">25%</text></g>
<text x="239.2" y="1557.7" text-anchor="middle" textLength="228">% that lost ZIC2 binding at promoters</text>
<path class="sg" d="M324.2 1445.7V1493.1"/>
<text x="332.1" y="1473.5"><tspan font-style="italic">P</tspan> = 2E-7</text>
</g>

<!-- ============ Panel n ============ -->
<text class="L" x="452" y="924">n</text>
<rect x="513" y="900" width="18.7" height="141.1" fill="#F8766D"/><rect x="513" y="1041.1" width="18.7" height="118.4" fill="#B79F00"/><rect x="513" y="1159.5" width="18.7" height="95.5" fill="#00BA38"/><rect x="513" y="1255" width="18.7" height="76.8" fill="#00BFC4"/><rect x="513" y="1331.8" width="18.7" height="70.1" fill="#619CFF"/><rect x="513" y="1401.9" width="18.7" height="65.8" fill="#F564E3"/>
<g font-size="14.5" text-anchor="end">
<text x="505.9" y="967.2">Cluster 1</text><text x="505.9" y="989.1">n=943</text>
<text x="505.9" y="1097.8">Cluster 2</text><text x="505.9" y="1118.9">n=800</text>
<text x="505.9" y="1204.4">Cluster 3</text><text x="505.9" y="1225.8">n=642</text>
<text x="505.9" y="1290.7">Cluster 4</text><text x="505.9" y="1312.6">n=515</text>
<text x="505.9" y="1363.9">Cluster 5</text><text x="505.9" y="1385">n=470</text>
<text x="505.9" y="1432.3">Cluster 6</text><text x="505.9" y="1453.8">n=445</text>
</g>
<!-- block 1 -->
<g>
<g transform="translate(0,900)"><rect x="537.3" width="30.6" height="141.2" fill="#6A8FC8"/><rect x="567.77" width="30.6" height="141.2" fill="#3E6DB5"/><rect x="598.24" width="30.6" height="141.2" fill="#4F7BBE"/><rect x="628.71" width="30.6" height="141.2" fill="#F8CDBE"/><rect x="659.18" width="30.6" height="141.2" fill="#F88C74"/><rect x="689.65" width="30.6" height="141.2" fill="#F8B8A4"/><rect x="720.12" width="30.6" height="141.2" fill="#F77E64"/><rect x="750.59" width="30.6" height="141.2" fill="#F8A088"/><rect x="781.06" width="30.44" height="141.2" fill="#F8B4A0"/></g>
<g transform="translate(0,1041.1)"><rect x="537.3" width="30.6" height="118.5" fill="#5F86C3"/><rect x="567.77" width="30.6" height="118.5" fill="#4A77BC"/><rect x="598.24" width="30.6" height="118.5" fill="#6189C4"/><rect x="628.71" width="30.6" height="118.5" fill="#FA7A5E"/><rect x="659.18" width="30.6" height="118.5" fill="#F75E44"/><rect x="689.65" width="30.6" height="118.5" fill="#F76A50"/><rect x="720.12" width="30.6" height="118.5" fill="#EFCACA"/><rect x="750.59" width="30.6" height="118.5" fill="#F3CFC8"/><rect x="781.06" width="30.44" height="118.5" fill="#F5DAD4"/></g>
<g transform="translate(0,1159.5)"><rect x="537.3" width="30.6" height="95.6" fill="#FB5A40"/><rect x="567.77" width="30.6" height="95.6" fill="#FC3A22"/><rect x="598.24" width="30.6" height="95.6" fill="#FB4A30"/><rect x="628.71" width="30.6" height="95.6" fill="#C8D2E8"/><rect x="659.18" width="30.6" height="95.6" fill="#9FB3DA"/><rect x="689.65" width="30.6" height="95.6" fill="#B4C3E1"/><rect x="720.12" width="30.6" height="95.6" fill="#7E9DD0"/><rect x="750.59" width="30.6" height="95.6" fill="#A3B6DB"/><rect x="781.06" width="30.44" height="95.6" fill="#AFC0E0"/></g>
<g transform="translate(0,1255)"><rect x="537.3" width="30.6" height="76.9" fill="#FB5A40"/><rect x="567.77" width="30.6" height="76.9" fill="#FA3E28"/><rect x="598.24" width="30.6" height="76.9" fill="#FB4A30"/><rect x="628.71" width="30.6" height="76.9" fill="#C4CFE6"/><rect x="659.18" width="30.6" height="76.9" fill="#4D79BD"/><rect x="689.65" width="30.6" height="76.9" fill="#C0CCE5"/><rect x="720.12" width="30.6" height="76.9" fill="#EDD0D0"/><rect x="750.59" width="30.6" height="76.9" fill="#EED8DA"/><rect x="781.06" width="30.44" height="76.9" fill="#F2DCDA"/></g>
<g transform="translate(0,1331.8)"><rect x="537.3" width="30.6" height="70.2" fill="#A9BBDD"/><rect x="567.77" width="30.6" height="70.2" fill="#9AAFD8"/><rect x="598.24" width="30.6" height="70.2" fill="#A5B7DB"/><rect x="628.71" width="30.6" height="70.2" fill="#A1B4DA"/><rect x="659.18" width="30.6" height="70.2" fill="#8CA4D3"/><rect x="689.65" width="30.6" height="70.2" fill="#7B98CD"/><rect x="720.12" width="30.6" height="70.2" fill="#FB3A24"/><rect x="750.59" width="30.6" height="70.2" fill="#FB4A32"/><rect x="781.06" width="30.44" height="70.2" fill="#FA5A40"/></g>
<g transform="translate(0,1401.9)"><rect x="537.3" width="30.6" height="65.8" fill="#FA6A50"/><rect x="567.77" width="30.6" height="65.8" fill="#FA5A40"/><rect x="598.24" width="30.6" height="65.8" fill="#F9664C"/><rect x="628.71" width="30.6" height="65.8" fill="#F8C4B6"/><rect x="659.18" width="30.6" height="65.8" fill="#E8CDD2"/><rect x="689.65" width="30.6" height="65.8" fill="#F7D4CC"/><rect x="720.12" width="30.6" height="65.8" fill="#5B82C2"/><rect x="750.59" width="30.6" height="65.8" fill="#4A77BC"/><rect x="781.06" width="30.44" height="65.8" fill="#7090CA"/></g>
<rect x="537.3" y="900" width="274.2" height="567.7" fill="url(#hs)"/>
</g>
<!-- block 2 -->
<g>
<g transform="translate(0,900)"><rect x="834.9" width="29.5" height="141.2" fill="#4F7BBE"/><rect x="864.27" width="29.5" height="141.2" fill="#F8B09A"/><rect x="893.64" width="29.36" height="141.2" fill="#F89C82"/></g>
<g transform="translate(0,1041.1)"><rect x="834.9" width="29.5" height="118.5" fill="#5C84C3"/><rect x="864.27" width="29.5" height="118.5" fill="#F8805F"/><rect x="893.64" width="29.36" height="118.5" fill="#F5D8D2"/></g>
<g transform="translate(0,1159.5)"><rect x="834.9" width="29.5" height="95.6" fill="#FA5A3C"/><rect x="864.27" width="29.5" height="95.6" fill="#B5C4E2"/><rect x="893.64" width="29.36" height="95.6" fill="#A9BADD"/></g>
<g transform="translate(0,1255)"><rect x="834.9" width="29.5" height="76.9" fill="#FA5A3C"/><rect x="864.27" width="29.5" height="76.9" fill="#7D9BCF"/><rect x="893.64" width="29.36" height="76.9" fill="#E3E1EC"/></g>
<g transform="translate(0,1331.8)"><rect x="834.9" width="29.5" height="70.2" fill="#A9BBDD"/><rect x="864.27" width="29.5" height="70.2" fill="#97ACD7"/><rect x="893.64" width="29.36" height="70.2" fill="#FB5E42"/></g>
<g transform="translate(0,1401.9)"><rect x="834.9" width="29.5" height="65.8" fill="#F9704F"/><rect x="864.27" width="29.5" height="65.8" fill="#F5D6D0"/><rect x="893.64" width="29.36" height="65.8" fill="#5D84C3"/></g>
<rect x="834.9" y="900" width="88.1" height="567.7" fill="url(#hs)"/>
</g>
<!-- block 3 -->
<g>
<g transform="translate(0,900)"><rect x="949.7" width="31.4" height="141.2" fill="#F9987C"/><rect x="980.93" width="31.4" height="141.2" fill="#F89A80"/><rect x="1012.16" width="31.24" height="141.2" fill="#F8E6E2"/></g>
<g transform="translate(0,1041.1)"><rect x="949.7" width="31.4" height="118.5" fill="#F9907A"/><rect x="980.93" width="31.4" height="118.5" fill="#F8A892"/><rect x="1012.16" width="31.24" height="118.5" fill="#CED8EC"/></g>
<g transform="translate(0,1159.5)"><rect x="949.7" width="31.4" height="95.6" fill="#A5B7DB"/><rect x="980.93" width="31.4" height="95.6" fill="#B6C5E2"/><rect x="1012.16" width="31.24" height="95.6" fill="#F7EEEE"/></g>
<g transform="translate(0,1255)"><rect x="949.7" width="31.4" height="76.9" fill="#9DB1D9"/><rect x="980.93" width="31.4" height="76.9" fill="#C5D0E6"/><rect x="1012.16" width="31.24" height="76.9" fill="#F6E2DE"/></g>
<g transform="translate(0,1331.8)"><rect x="949.7" width="31.4" height="70.2" fill="#F3D6D2"/><rect x="980.93" width="31.4" height="70.2" fill="#FB5C44"/><rect x="1012.16" width="31.24" height="70.2" fill="#FB5C44"/></g>
<g transform="translate(0,1401.9)"><rect x="949.7" width="31.4" height="65.8" fill="#DFE4F0"/><rect x="980.93" width="31.4" height="65.8" fill="#ACBEDE"/><rect x="1012.16" width="31.24" height="65.8" fill="#DCE2F0"/></g>
<rect x="949.7" y="900" width="93.7" height="567.7" fill="url(#hs)"/>
</g>
<!-- block 4 -->
<g>
<g transform="translate(0,900)"><rect x="1057.5" width="31.4" height="141.2" fill="#8F81C4"/><rect x="1088.73" width="31.4" height="141.2" fill="#7D6DBA"/><rect x="1119.96" width="31.24" height="141.2" fill="#F7F6FB"/></g>
<g transform="translate(0,1041.1)"><rect x="1057.5" width="31.4" height="118.5" fill="#8474BE"/><rect x="1088.73" width="31.4" height="118.5" fill="#DDD8EC"/><rect x="1119.96" width="31.24" height="118.5" fill="#E8E4F2"/></g>
<g transform="translate(0,1159.5)"><rect x="1057.5" width="31.4" height="95.6" fill="#8A7CC2"/><rect x="1088.73" width="31.4" height="95.6" fill="#8474BE"/><rect x="1119.96" width="31.24" height="95.6" fill="#FCFCFE"/></g>
<g transform="translate(0,1255)"><rect x="1057.5" width="31.4" height="76.9" fill="#8E80C4"/><rect x="1088.73" width="31.4" height="76.9" fill="#D8D4EA"/><rect x="1119.96" width="31.24" height="76.9" fill="#F2F0F8"/></g>
<g transform="translate(0,1331.8)"><rect x="1057.5" width="31.4" height="70.2" fill="#F5F4FA"/><rect x="1088.73" width="31.4" height="70.2" fill="#8E80C4"/><rect x="1119.96" width="31.24" height="70.2" fill="#8E80C4"/></g>
<g transform="translate(0,1401.9)"><rect x="1057.5" width="31.4" height="65.8" fill="#E4E0F0"/><rect x="1088.73" width="31.4" height="65.8" fill="#9A8ECA"/><rect x="1119.96" width="31.24" height="65.8" fill="#F6F5FA"/></g>
<rect x="1057.5" y="900" width="93.7" height="567.7" fill="url(#hs)"/>
</g>
<path class="tk" d="M552.5 1467.7V1471.5M583 1467.7V1471.5M613.5 1467.7V1471.5M644 1467.7V1471.5M674.4 1467.7V1471.5M704.9 1467.7V1471.5M735.4 1467.7V1471.5M765.9 1467.7V1471.5M796.3 1467.7V1471.5M849.6 1467.7V1471.5M879 1467.7V1471.5M908.3 1467.7V1471.5M965.3 1467.7V1471.5M996.5 1467.7V1471.5M1027.8 1467.7V1471.5M1073.1 1467.7V1471.5M1104.4 1467.7V1471.5M1135.6 1467.7V1471.5"/>
<g font-size="12.5" text-anchor="end">
<text transform="translate(557.5,1481) rotate(-45)">H1+Vector rep.1</text><text transform="translate(588,1481) rotate(-45)">rep.2</text><text transform="translate(618.5,1481) rotate(-45)">rep.3</text>
<text transform="translate(649,1481) rotate(-45)">1-10++Vector rep.1</text><text transform="translate(679.4,1481) rotate(-45)">rep.2</text><text transform="translate(709.9,1481) rotate(-45)">rep.3</text>
<text transform="translate(740.4,1481) rotate(-45)">1.10+<tspan font-style="italic">ZIC2</tspan>-OE rep.1</text><text transform="translate(770.9,1481) rotate(-45)">rep.2</text><text transform="translate(801.3,1481) rotate(-45)">rep.3</text>
<text transform="translate(854.6,1481) rotate(-45)">H1+Vector</text><text transform="translate(884,1481) rotate(-45)">1-10++Vector</text><text transform="translate(913.3,1481) rotate(-45)">1.10+<tspan font-style="italic">ZIC2</tspan>-OE</text>
<text transform="translate(970.3,1481) rotate(-45)">KO vs. WT</text><text transform="translate(1001.5,1481) rotate(-45)">KO+<tspan font-style="italic">ZIC2</tspan>-OE vs. WT</text><text transform="translate(1032.8,1481) rotate(-45)">KO+<tspan font-style="italic">ZIC2</tspan>-OE vs. KO</text>
<text transform="translate(1078.1,1481) rotate(-45)">KO vs. WT</text><text transform="translate(1109.4,1481) rotate(-45)">KO+<tspan font-style="italic">ZIC2</tspan>-OE vs. WT</text><text transform="translate(1140.6,1481) rotate(-45)">KO+<tspan font-style="italic">ZIC2</tspan>-OE vs. KO</text>
</g>
<!-- GO text -->
<g font-size="11.5">
<text style="fill:#F8766D;font-weight:bold;font-style:italic" x="1162.8" y="935" textLength="140.5">TEAD3/4, JUND, TGFB1</text>
<text style="fill:#F8766D" x="1162.8" y="952.5" textLength="279.2">GO: cotranslational protein targeting to membrane</text>
<text style="fill:#F8766D" x="1162.8" y="967.8" textLength="177.6">GO: amide biosynthetic process</text>
<text style="fill:#F8766D" x="1162.8" y="983.1" textLength="366.6">GO: establishment of protein localization to endoplasmic reticulum</text>
<text style="fill:#F8766D" x="1162.8" y="999.3" textLength="184.2">GO: peptide biosynthetic process</text>
<text style="fill:#F8766D" x="1162.8" y="1014.7" textLength="142.6">GO: translational initiation</text>
<text style="fill:#B8A000;font-weight:bold;font-style:italic" x="1162.8" y="1063" textLength="197.4">KLF4, GPC4, ID1, MYC, LEFTY1/2</text>
<text style="fill:#B8A000" x="1162.8" y="1081.8" textLength="131.8">GO: biological adhesion</text>
<text style="fill:#B8A000" x="1162.8" y="1096.3" textLength="265.8">GO: regulation of cellular component movement</text>
<text style="fill:#B8A000" x="1162.8" y="1111.2" textLength="90.5">GO: gastrulation</text>
<text style="fill:#B8A000" x="1162.8" y="1126.9" textLength="247.4">GO: regulation of cell population proliferation</text>
<text style="fill:#B8A000" x="1162.8" y="1142.3" textLength="246.8">GO: negative regulation of cell differentiation</text>
<text style="fill:#00BA38;font-weight:bold;font-style:italic" x="1162.8" y="1192.8" textLength="187.1">MDM1, STAG1, BRCA2, SMOC1</text>
<text style="fill:#00BFC4;font-weight:bold;font-style:italic" x="1162.8" y="1268.2" textLength="127.9">ZNF521, CHD7, MAP2</text>
<text style="fill:#00BFC4" x="1162.8" y="1284.8" textLength="100.8">GO: neurogenesis</text>
<text style="fill:#00BFC4" x="1162.8" y="1297.9" textLength="230.5">GO: central nervous system development</text>
<text style="fill:#00BFC4" x="1162.8" y="1310.2" textLength="151">GO: forebrain development</text>
<text style="fill:#00BFC4" x="1162.8" y="1323.3" textLength="180.5">GO: sensory organ development</text>
<text style="fill:#619CFF;font-weight:bold;font-style:italic" x="1162.8" y="1342.7" textLength="124.7">WNT5A, NRP2, SOX9</text>
<text style="fill:#619CFF" x="1162.8" y="1358.4" textLength="217.4">GO: extracellular structure organization</text>
<text style="fill:#619CFF" x="1162.8" y="1372.9" textLength="202.1">GO: circulatory system development</text>
<text style="fill:#619CFF" x="1162.8" y="1386.9" textLength="204.2">GO: mesenchymal cell differentiation</text>
<text style="fill:#619CFF" x="1162.8" y="1400.9" textLength="177.1">GO: neuron projection guidance</text>
<text style="fill:#F564E3;font-weight:bold;font-style:italic" x="1162.8" y="1435.2" textLength="26.6">ZIC5</text>
</g>
<!-- legends n -->
<rect x="1236.4" y="1462.4" width="17.9" height="91.6" fill="url(#gn)"/>
<rect x="1313.6" y="1462.4" width="18.4" height="91.6" fill="url(#gn)"/>
<rect x="1393.3" y="1462.4" width="18.1" height="91.6" fill="url(#gn)"/>
<g font-size="12">
<text x="1257.8" y="1478.5">1.0</text><text x="1257.8" y="1511.4">0.0</text><text x="1254.5" y="1544.3">-1.0</text>
<text x="1333.8" y="1478.5">1.0</text><text x="1333.8" y="1511.4">0.0</text><text x="1330.5" y="1544.3">-1.0</text>
<text x="1413.5" y="1487.3">0.5</text><text x="1413.5" y="1511.4">0.0</text><text x="1410" y="1534.6">-0.5</text>
</g>
<g font-size="13" text-anchor="middle">
<text transform="translate(1291,1533.4) rotate(-90)">Z-score</text>
<text transform="translate(1368,1515.9) rotate(-90)">Mean z-score</text>
<text transform="translate(1446,1526.8) rotate(-90)">Log<tspan font-size="8.5" dy="3.5">2</tspan><tspan dy="-3.5">-ratio</tspan></text>
<text transform="translate(1520.5,1485.2) rotate(-90)">-log<tspan font-size="8.5" dy="3.5">10</tspan><tspan dy="-3.5">(adjusted </tspan><tspan font-style="italic">P</tspan>-value)</text>
</g>
<rect x="1469.6" y="1462.4" width="18.4" height="22.9" fill="#7B6AB7"/>
<rect x="1469.6" y="1485.3" width="18.4" height="22.9" fill="#B7ADD8"/>
<rect x="1469.6" y="1508.2" width="18.4" height="22.9" fill="#DDD8EC"/>
<rect x="1469.6" y="1462.4" width="18.4" height="91.6" fill="none" stroke="#000" stroke-width="1.5"/>
<g font-size="12"><text x="1491.5" y="1465.5">4</text><text x="1491.5" y="1488.4">3</text><text x="1491.5" y="1510.7">2</text><text x="1491.5" y="1533.5">1</text><text x="1491.5" y="1556.8">0</text></g>
</svg>
</body></html>
